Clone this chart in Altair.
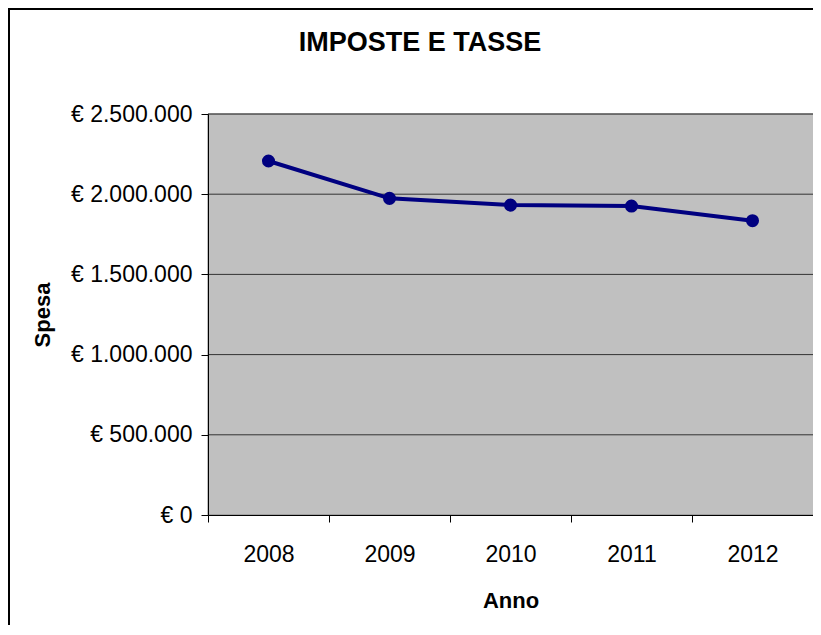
import altair as alt
import pandas as pd

anni = ["2008", "2009", "2010", "2011", "2012"]
spesa = [2207000, 1974000, 1932000, 1926000, 1835000]
y_ticks = [0, 500000, 1000000, 1500000, 2000000, 2500000]
titolo = "IMPOSTE E TASSE"

df = pd.DataFrame({"Anno": anni, "Spesa": spesa})
grid_df = pd.DataFrame({"Spesa": y_ticks[1:]})

FONT = "Liberation Sans"
W, H = 605, 401

x_enc = alt.X(
    "Anno:N",
    sort=anni,
    scale=alt.Scale(paddingInner=0, paddingOuter=0),
    axis=alt.Axis(
        title="Anno",
        labelAngle=0,
        tickBand="extent",
        grid=False,
        zindex=1,
        tickSize=7,
        labelPadding=21,
        labelFontSize=23,
        labelFont=FONT,
        labelColor="black",
        titleFont=FONT,
        titleFontSize=22,
        titleFontWeight="bold",
        titleColor="black",
        titleY=85,
        titleBaseline="middle",
        domainColor="black",
        tickColor="black",
    ),
)
y_scale = alt.Scale(domain=[0, 2500000], nice=False)
y_enc = alt.Y(
    "Spesa:Q",
    scale=y_scale,
    axis=alt.Axis(
        title="Spesa",
        values=y_ticks,
        labelExpr="'€ ' + replace(replace(format(datum.value, ','), ',', '.'), ',', '.')",
        grid=False,
        zindex=1,
        tickSize=7,
        labelPadding=9,
        labelFontSize=23,
        labelFont=FONT,
        labelColor="black",
        titleFont=FONT,
        titleFontSize=22,
        titleFontWeight="bold",
        titleColor="black",
        titleX=-166,
        titleY=200.5,
        titleAngle=270,
        titleBaseline="middle",
        domainColor="black",
        tickColor="black",
    ),
)

title_df = pd.DataFrame({"t": [titolo]})

bg = alt.Chart(title_df).mark_rect(fill="#C0C0C0", stroke="#808080", strokeWidth=1).encode(
    x=alt.value(0), x2=alt.value(W + 5), y=alt.value(0), y2=alt.value(H)
)
grid = alt.Chart(grid_df).mark_rule(color="#333333", strokeWidth=1).encode(
    y=alt.Y("Spesa:Q", scale=y_scale), x=alt.value(0), x2=alt.value(W)
)
line = alt.Chart(df).mark_line(color="#000080", strokeWidth=4).encode(x=x_enc, y=y_enc)
pts = alt.Chart(df).mark_point(filled=True, color="#000080", size=170, opacity=1).encode(x=x_enc, y=y_enc)

title_mark = alt.Chart(title_df).mark_text(
    font=FONT, fontSize=27, fontWeight="bold", color="black",
    align="center", baseline="alphabetic",
).encode(text="t:N", x=alt.value(212), y=alt.value(-63))

border_left = alt.Chart(title_df).mark_rule(color="black", strokeWidth=2).encode(
    x=alt.value(-199), y=alt.value(-106), y2=alt.value(H + 120)
)
border_top = alt.Chart(title_df).mark_rule(color="black", strokeWidth=2).encode(
    y=alt.value(-105), x=alt.value(-200), x2=alt.value(W + 10)
)

chart = (
    alt.layer(bg, grid, line, pts, title_mark, border_left, border_top)
    .properties(
        width=W,
        height=H,
        autosize=alt.AutoSizeParams(type="none"),
        padding={"left": 200, "top": 106, "right": 0, "bottom": 110},
    )
    .configure_view(stroke=None)
    .configure(background="white")
)

chart.save("out.html", embed_options={"renderer": "svg", "actions": False})
